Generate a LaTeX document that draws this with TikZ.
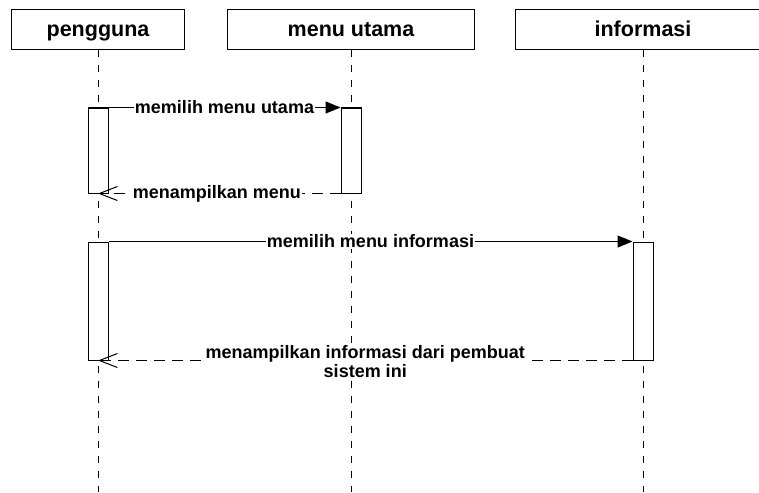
\documentclass[tikz,border=0pt]{standalone}
\usepackage{fontspec}
\setmainfont{Liberation Sans}
\usetikzlibrary{arrows.meta}

\tikzset{
  actor/.style={draw,line width=1pt,fill=white,minimum height=40pt,inner sep=0pt,
    text height=15pt,text depth=2pt,font=\fontsize{21.5}{24}\selectfont\bfseries},
  lifeline/.style={line width=1pt,dash pattern=on 7pt off 8pt},
  act/.style={draw,line width=1pt,fill=white,minimum width=20pt,inner sep=0pt},
  msg/.style={line width=1pt,-{Triangle[length=15pt,width=12pt]}},
  ret/.style={line width=1pt,dash pattern=on 11pt off 7pt,-{Straight Barb[length=18pt,width=14pt]}},
  lbl/.style={fill=white,inner sep=1pt,font=\fontsize{18}{19}\selectfont\bfseries}
}

\begin{document}
\begin{tikzpicture}[x=1pt,y=-1pt]
\clip (0,0) rectangle (759,492);

% heads
\node[actor,minimum width=173pt] (pengguna) at (98,30) {pengguna};
\node[actor,minimum width=247pt] (menu) at (351,30) {menu utama};
\node[actor,minimum width=256pt] (info) at (643,30) {informasi};

% lifelines
\coordinate (pengguna-end) at (98,492);
\coordinate (menu-end) at (351,492);
\coordinate (info-end) at (643,492);
\draw[lifeline] (pengguna.south) -- (pengguna-end);
\draw[lifeline] (menu.south) -- (menu-end);
\draw[lifeline] (info.south) -- (info-end);

% activations
\node[act,minimum height=85pt] (a1) at (98,150.5) {};
\node[act,minimum height=85pt] (a2) at (351,150.5) {};
\node[act,minimum height=118pt] (a3) at (98,301) {};
\node[act,minimum height=118pt] (a4) at (643,301) {};

% messages
\draw[msg] (a1.north east) -- (a2.north west) node[lbl,midway] {memilih menu utama};
\draw[ret] (a2.south west) -- (a1.south) node[lbl,pos=0.51] {menampilkan menu};
\draw[msg] (a3.north east) -- (a4.north west) node[lbl,midway] {memilih menu informasi};
\draw[ret] (a4.south west) -- (a3.south) node[lbl,align=center,midway,yshift=-1pt] {menampilkan informasi dari pembuat\\sistem ini};
\end{tikzpicture}
\end{document}
